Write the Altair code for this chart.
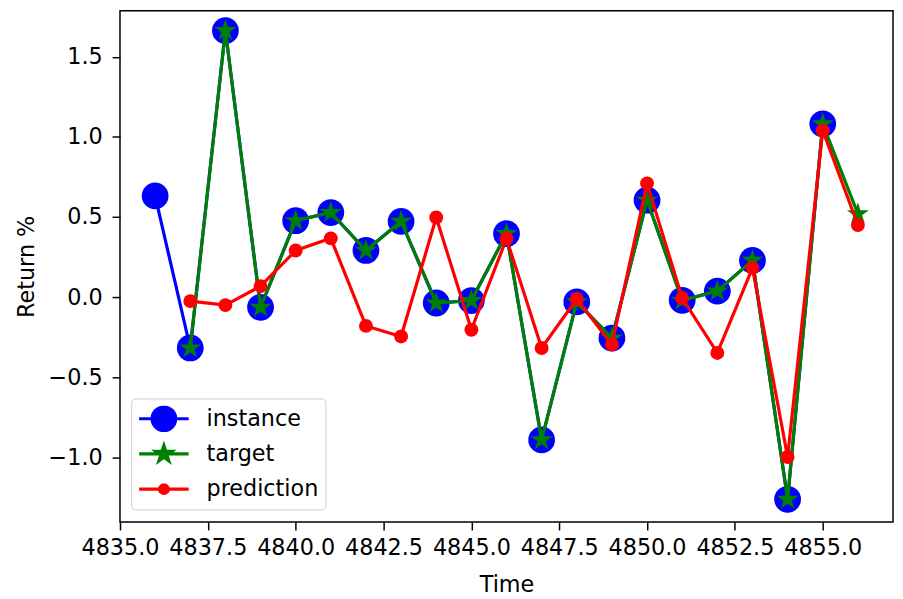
import math
import altair as alt
import pandas as pd

# ---- data ----
instance_time = list(range(4836, 4856))
instance_values = [0.632, -0.318, 1.664, -0.064, 0.477, 0.528, 0.291, 0.473, -0.037, -0.022,
                   0.396, -0.892, -0.030, -0.256, 0.605, -0.020, 0.037, 0.229, -1.263, 1.082]
target_time = list(range(4837, 4857))
target_values = [-0.318, 1.664, -0.064, 0.477, 0.528, 0.291, 0.473, -0.037, -0.022, 0.396,
                 -0.892, -0.030, -0.256, 0.605, -0.020, 0.037, 0.229, -1.263, 1.082, 0.520]
prediction_time = list(range(4837, 4857))
prediction_values = [-0.025, -0.050, 0.068, 0.291, 0.367, -0.180, -0.246, 0.497, -0.204, 0.365,
                     -0.318, -0.012, -0.297, 0.710, -0.006, -0.349, 0.181, -0.999, 1.040, 0.450]

series_names = ["instance", "target", "prediction"]
series_colors = ["#0000ff", "#008000", "#ff0000"]
x_ticks = [4835.0, 4837.5, 4840.0, 4842.5, 4845.0, 4847.5, 4850.0, 4852.5, 4855.0]
y_ticks = [-1.0, -0.5, 0.0, 0.5, 1.0, 1.5]

df = pd.concat([
    pd.DataFrame({"time": instance_time, "value": instance_values, "series": "instance"}),
    pd.DataFrame({"time": target_time, "value": target_values, "series": "target"}),
    pd.DataFrame({"time": prediction_time, "value": prediction_values, "series": "prediction"}),
], ignore_index=True)


def star_path(R, inner=0.381966):
    pts = []
    for k in range(10):
        a = math.radians(-90 + 36 * k)
        r = R if k % 2 == 0 else R * inner
        pts.append(f"{r * math.cos(a):.4f},{r * math.sin(a):.4f}")
    return "M" + "L".join(pts) + "Z"


def circle_path(r):
    return f"M{-r},0A{r},{r} 0 1,0 {r},0A{r},{r} 0 1,0 {-r},0Z"


line_seg = "M-2.5,0H2.5"
legend_shapes = [line_seg + circle_path(1.19), line_seg + star_path(0.85), line_seg + circle_path(0.44)]

FONT = "DejaVu Sans"
FS = 22.5

x_enc = alt.X("time:Q",
              scale=alt.Scale(domain=[4835, 4857], nice=False, zero=False),
              axis=alt.Axis(values=x_ticks, format=".1f", title="Time", labelPadding=7,
                            labelOverlap=False, labelFlush=False,
                            titleBaseline="alphabetic", titleY=70))
y_enc = alt.Y("value:Q",
              scale=alt.Scale(domain=[-1.405, 1.789], nice=False, zero=False),
              axis=alt.Axis(values=y_ticks, labelExpr="replace(format(datum.value, '.1f'), '-', '−')",
                            labelOverlap=False, labelFlush=False,
                            title="Return %", labelPadding=10, titleBaseline="alphabetic", titleX=-87))

base = alt.Chart(df).encode(x=x_enc, y=y_enc)

star_data = star_path(1.0)
marker_shapes = {"instance": ("circle", 729), "target": (star_data, 538), "prediction": ("circle", 196)}

layers = []
for name, col in zip(series_names, series_colors):
    shp, sz = marker_shapes[name]
    sub = base.transform_filter(alt.datum.series == name)
    layers.append(sub.mark_line(color=col, strokeWidth=3.2))
    layers.append(sub.mark_point(filled=True, shape=shp, size=sz, color=col, opacity=1))

leg = alt.Legend(title=None, orient="none", legendX=11.3, legendY=391.3,
                 symbolSize=400, symbolStrokeWidth=3.2, symbolOffset=14, labelOffset=31,
                 labelFont=FONT, labelFontSize=FS, labelColor="black", labelLimit=400,
                 padding=7, rowPadding=8.5, clipHeight=27, fillColor="rgba(255,255,255,0.8)",
                 strokeColor="#cccccc", cornerRadius=4)

legend_layer = base.transform_filter("false").mark_point(filled=True, opacity=1).encode(
    fill=alt.Fill("series:N", scale=alt.Scale(domain=series_names, range=series_colors), legend=leg),
    stroke=alt.Stroke("series:N", scale=alt.Scale(domain=series_names, range=series_colors), legend=leg),
    shape=alt.Shape("series:N", scale=alt.Scale(domain=series_names, range=legend_shapes), legend=leg),
)
layers.append(legend_layer)

chart = alt.layer(*layers).properties(
    width=780, height=516,
    autosize=alt.AutoSizeParams(type="none"),
    padding={"left": 113, "top": 0, "right": 2, "bottom": 75},
).configure_view(stroke="black", strokeWidth=1.5).configure_axis(
    grid=False, domain=False, labelFont=FONT, labelFontSize=FS, labelColor="black",
    titleFont=FONT, titleFontSize=FS, titleFontWeight="normal", titleColor="black",
    tickColor="black", tickSize=8, tickWidth=1.5,
)

chart.save("out.html", embed_options={"renderer": "svg", "actions": False})
